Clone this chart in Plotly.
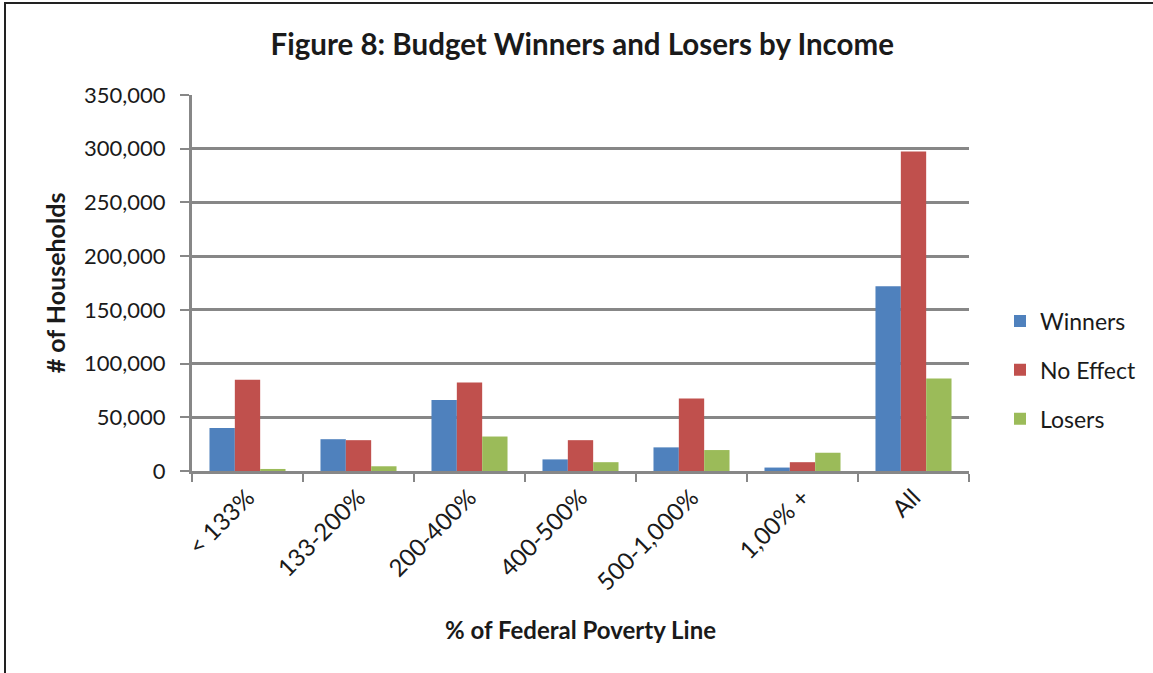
import plotly.graph_objects as go

categories = ["< 133%", "133-200%", "200-400%", "400-500%", "500-1,000%", "1,00% +", "All"]
winners = [40000, 29600, 66000, 10800, 22000, 3200, 172000]
no_effect = [85000, 28700, 82400, 28700, 67400, 8200, 297500]
losers = [1900, 4400, 32100, 8200, 19500, 17000, 86000]

series = [("Winners", winners, "#4f81bd"),
          ("No Effect", no_effect, "#c0504d"),
          ("Losers", losers, "#9bbb59")]

FONT = "Lato"
TXT = "#1a1a1a"
GRID = "#878787"

fig = go.Figure()
for name, vals, col in series:
    fig.add_trace(go.Bar(x=categories, y=vals, name=name, marker_color=col,
                         marker_line_width=0, legendgroup=name))

L, R, T, B = 192, 969, 95, 471
W, H = 1153, 673
pw, ph = R - L, B - T

fig.update_layout(
    width=W, height=H,
    margin=dict(l=L, r=W - R, t=T, b=H - B),
    paper_bgcolor="white", plot_bgcolor="white",
    barmode="group", bargap=0.315, bargroupgap=0,
    font=dict(family=FONT, color=TXT, size=18),
    title=dict(text="<b>Figure 8: Budget Winners and Losers by Income</b>",
               x=0.505, xanchor="center", y=1 - 45 / H, yanchor="middle",
               font=dict(family=FONT, size=29.5, color=TXT)),
    legend=dict(x=(1000 - L) / pw, xanchor="left", y=(B - 370) / ph, yanchor="middle",
                font=dict(family=FONT, size=23, color=TXT), tracegroupgap=16,
                bgcolor="rgba(0,0,0,0)"),
    showlegend=True,
)

fig.update_yaxes(range=[0, 350000], dtick=50000, tickformat=",",
                 showgrid=True, gridcolor=GRID, gridwidth=3,
                 zeroline=False, showline=True, linecolor=GRID, linewidth=3,
                 ticks="outside", ticklen=9, tickwidth=2, tickcolor=GRID,
                 ticklabelstandoff=10,
                 tickfont=dict(family=FONT, size=22, color=TXT),
                 title=dict(text="<b># of Households</b>", standoff=12,
                            font=dict(family=FONT, size=25, color=TXT)))
fig.update_xaxes(showline=True, linecolor=GRID, linewidth=3,
                 ticks="outside", tickson="boundaries", ticklen=8, tickwidth=2, tickcolor=GRID,
                 tickangle=-45, ticklabelshift=0,
                 tickfont=dict(family=FONT, size=24, color=TXT),
                 title=dict(text="<b>% of Federal Poverty Line</b>", standoff=28,
                            font=dict(family=FONT, size=24, color=TXT)))

# outer chart border (right edge lies outside the visible area, as in the original)
fig.add_shape(type="rect", xref="paper", yref="paper",
              x0=(5 - L) / pw, x1=(1170 - L) / pw,
              y0=(B - 700) / ph, y1=(B - 3) / ph,
              line=dict(color="#222222", width=2), fillcolor="rgba(0,0,0,0)", layer="below")

fig.write_html("out.html", config={"displayModeBar": False},
               post_script="document.body.style.margin='0';")
